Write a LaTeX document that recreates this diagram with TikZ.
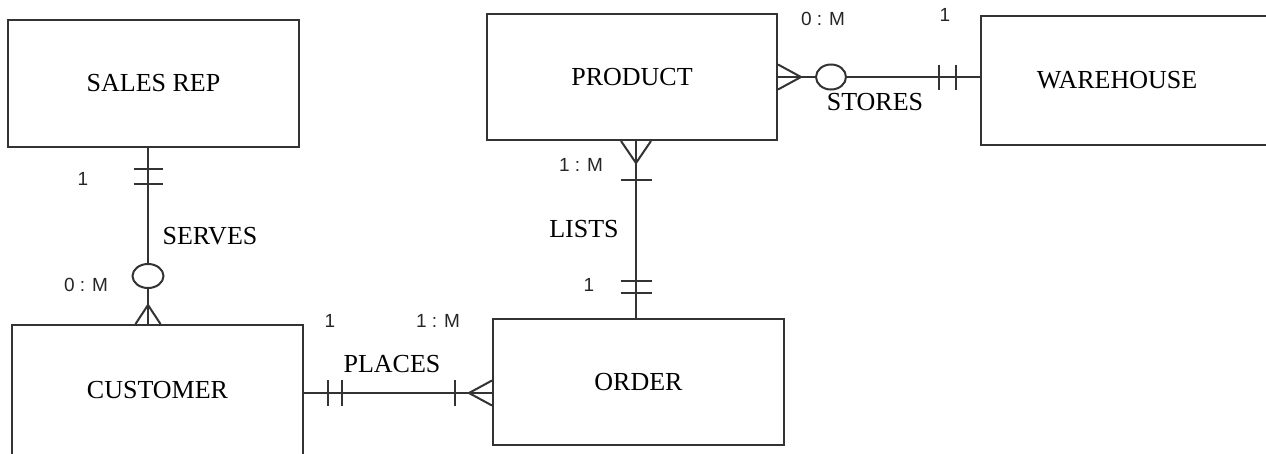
\documentclass[tikz,border=0pt]{standalone}
\usepackage{fontspec}
\setmainfont{Liberation Serif}
\newfontfamily\cardfont{Liberation Sans}
\usetikzlibrary{calc}

\begin{document}
\begin{tikzpicture}[
  x=1pt, y=-1pt,
  font=\fontsize{26}{30}\selectfont,
  entity/.style={draw=black!80, line width=2pt, minimum width=291pt, minimum height=127pt, inner sep=0pt},
  rel/.style={draw=black!80, line width=2pt},
  card/.style={font=\cardfont\fontsize{19}{22}\selectfont, text=black!85, inner sep=0pt},
  relname/.style={inner sep=0pt}
]
\path[use as bounding box, fill=white] (0,0) rectangle (1266,453);

\node[entity] (rep) at (153.5,83.5) {SALES REP};
\node[entity, minimum width=290pt, minimum height=126pt] (prod) at (632,77) {PRODUCT};
\node[entity, minimum width=290pt, minimum height=129pt] (ware) at (1126,80.5) {WAREHOUSE\hspace*{18pt}};
\node[entity, minimum height=130pt] (cust) at (157.5,390) {CUSTOMER};
\node[entity, minimum height=126pt] (ord) at (638.5,382) {ORDER};

\node[card] (srone) at (83,179) {1};
\node[card] (srmany) at (86,285) {0 : M};
\node[relname] (serves) at (210,236) {SERVES};
\node[card] (plone) at (330,321) {1};
\node[card] (plmany) at (438,321) {1 : M};
\node[relname] (places) at (392,364) {PLACES};
\node[card] (limany) at (581,165) {1 : M};
\node[relname] (lists) at (584,229) {LISTS};
\node[card] (lione) at (589,285) {1};
\node[card] (stmany) at (823,19) {0 : M};
\node[card] (stone) at (945,15) {1};
\node[relname] (stores) at (875,102) {STORES};

% serves
\draw[rel] ([xshift=-5.5pt]rep.south) coordinate (sa) -- (sa |- cust.north) coordinate (sb);
\draw[rel] ($(sa)+(-14.5,21)$) -- ++(29,0) ($(sa)+(-14.5,36)$) -- ++(29,0);
\draw[rel, fill=white] ($(sa)+(0,128)$) ellipse [x radius=15.5pt, y radius=12pt];
\draw[rel] ($(sb)+(-12.5,0)$) -- ($(sb)+(0,-19)$) -- ($(sb)+(12.5,0)$);

% places
\draw[rel] ([yshift=-3pt]cust.east) coordinate (pa) -- (pa -| ord.west) coordinate (pb);
\draw[rel] ($(pa)+(24,-13)$) -- ++(0,26) ($(pa)+(38,-13)$) -- ++(0,26);
\draw[rel] ($(pb)+(-37,-13)$) -- ++(0,26);
\draw[rel] ($(pb)+(0,-12.5)$) -- ($(pb)+(-23,0)$) -- ($(pb)+(0,12.5)$);

% lists
\draw[rel] ([xshift=4pt]prod.south) coordinate (la) -- (la |- ord.north) coordinate (lb);
\draw[rel] ($(la)+(-15,0)$) -- ($(la)+(0,22)$) -- ($(la)+(15,0)$);
\draw[rel] ($(la)+(-15.5,39)$) -- ++(31,0);
\draw[rel] ($(lb)+(-15.5,-37)$) -- ++(31,0) ($(lb)+(-15.5,-25)$) -- ++(31,0);

% stores
\draw[rel] (prod.east) coordinate (ta) -- (ta -| ware.west) coordinate (tb);
\draw[rel] ($(ta)+(0,-12.5)$) -- ($(ta)+(23,0)$) -- ($(ta)+(0,12.5)$);
\draw[rel, fill=white] ($(ta)+(53,0)$) ellipse [x radius=15pt, y radius=12.5pt];
\draw[rel] ($(tb)+(-41,-12.5)$) -- ++(0,25) ($(tb)+(-24,-12.5)$) -- ++(0,25);
\end{tikzpicture}
\end{document}
